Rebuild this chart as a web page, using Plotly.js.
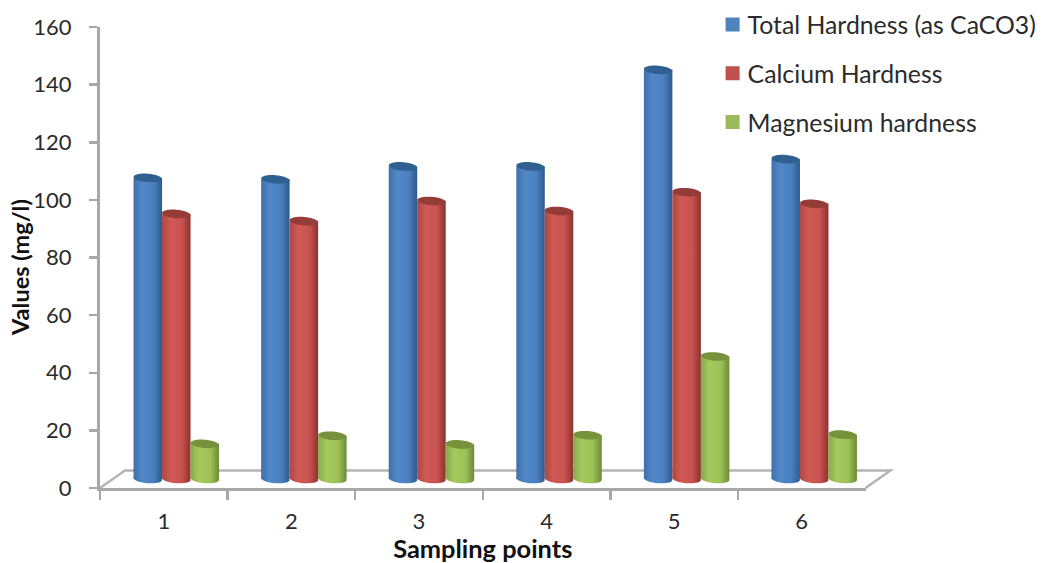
<!DOCTYPE html>
<html>
<head>
<meta charset="utf-8">
<script src="https://cdn.plot.ly/plotly-3.0.1.min.js"></script>
<style>html,body{margin:0;padding:0;background:#fff}#chart{width:1041px;height:563px}</style>
</head>
<body>
<div id="chart"></div>
<script>
// Water hardness at six sampling points (mg/l)
const samplingPoints = [1, 2, 3, 4, 5, 6];
const totalHardness = [104.5, 104, 108.5, 108.5, 142, 111];
const calciumHardness = [92, 89.5, 96.5, 93, 99.5, 95.5];
const magnesiumHardness = [12.2, 15, 12, 15.2, 42.5, 15.4];
const seriesNames = ['Total Hardness (as CaCO3)', 'Calcium Hardness', 'Magnesium hardness'];
const yTicks = [0, 20, 40, 60, 80, 100, 120, 140, 160];

const swatch = ['#4f81bd', '#c0504d', '#9bbb59'];
const capColor = ['#30608f', '#953c39', '#76933c'];
const shades = [
  ['#3f70aa', '#5088c8', '#4a80bf', '#2f5a8c'],
  ['#ae4643', '#d05a56', '#c7524f', '#8a322f'],
  ['#88a94b', '#a6ca5e', '#9dc058', '#6d8a38']
];

// Frame of the plot in pixels; the columns sit on axes nudged back by the floor depth
const W = 1041, H = 563;
const left = 100, axisW = 766, top0 = 27, floorY = 488, axisH = 461;
const depthX = 12.5, depthY = 9;
const mL = left, mR = W - (left + axisW + depthX), mT = top0 - depthY, mB = H - floorY;
const plotW = W - mL - mR, plotH = H - mT - mB;
const barWidth = 0.67 / 3;
const halfW = 14.2, halfH = 4.2, tilt = 1;
const unitsPerPx = 160 / axisH;

// Tilted ellipse in pixels around its anchor, for the column ends
function ellipsePath() {
  const k = 0.5523, a = [halfW, -tilt], b = [0, halfH];
  const p = (u, v) => (u * a[0] + v * b[0]).toFixed(2) + ',' + (u * a[1] + v * b[1]).toFixed(2);
  return 'M' + p(1, 0) +
    'C' + p(1, k) + ' ' + p(k, 1) + ' ' + p(0, 1) +
    'C' + p(-k, 1) + ' ' + p(-1, k) + ' ' + p(-1, 0) +
    'C' + p(-1, -k) + ' ' + p(-k, -1) + ' ' + p(0, -1) +
    'C' + p(k, -1) + ' ' + p(1, -k) + ' ' + p(1, 0) + 'Z';
}

const allSeries = [totalHardness, calciumHardness, magnesiumHardness];
const font = 'Lato, Carlito, sans-serif';
const categoryLabels = samplingPoints.map(String);

const traces = allSeries.map((vals, i) => ({
  type: 'bar', name: seriesNames[i], x: samplingPoints, y: vals,
  xaxis: 'x2', yaxis: 'y2', legendgroup: 'g' + i,
  marker: {color: swatch[i], line: {width: 0}}
}));
// Keeps the front axes alive; the columns themselves live on x2/y2
traces.unshift({
  type: 'scatter', mode: 'none', x: categoryLabels, y: totalHardness,
  xaxis: 'x', yaxis: 'y', showlegend: false, hoverinfo: 'skip'
});

// Floor of the chart: back edge and the two receding sides
const floorDx = 25, floorDy = 17.5;
const fx = px => (px - mL) / plotW, fy = py => (H - mB - py) / plotH;
const shapes = [{
  type: 'path', xref: 'paper', yref: 'paper', layer: 'below',
  path: 'M' + fx(left) + ',' + fy(floorY) +
        'L' + fx(left + floorDx) + ',' + fy(floorY - floorDy) +
        'L' + fx(left + axisW + floorDx) + ',' + fy(floorY - floorDy) +
        'L' + fx(left + axisW) + ',' + fy(floorY),
  line: {color: '#b4b4b4', width: 2.5}
}];
const bottomCaps = [];
allSeries.forEach((vals, i) => vals.forEach((v, j) => {
  const xc = samplingPoints[j] + (i - 1) * barWidth;
  const base = {type: 'path', xref: 'x2', yref: 'y2', xsizemode: 'pixel', ysizemode: 'pixel',
    xanchor: xc, path: ellipsePath(), line: {width: 0}};
  bottomCaps.push({index: shapes.length, series: i});
  shapes.push(Object.assign({}, base, {yanchor: 0, fillcolor: swatch[i], layer: 'below'}));
  shapes.push(Object.assign({}, base, {yanchor: v, fillcolor: capColor[i], layer: 'above'}));
}));

const layout = {
  width: W, height: H, showlegend: true, paper_bgcolor: '#fff', plot_bgcolor: 'rgba(0,0,0,0)',
  margin: {l: mL, r: mR, t: mT, b: mB, pad: 0, autoexpand: false},
  font: {family: font, size: 22, color: '#2b2b2b'},
  barmode: 'group', bargap: 0.33, bargroupgap: 0,
  shapes: shapes,
  xaxis: {
    type: 'category', categoryorder: 'array', categoryarray: categoryLabels,
    tickvals: categoryLabels, tickson: 'boundaries',
    domain: [0, axisW / plotW], range: [-0.5, samplingPoints.length - 0.5], anchor: 'y',
    showline: true, linecolor: '#a8a8a8', linewidth: 3, ticks: 'outside', ticklen: 9,
    tickcolor: '#a8a8a8', tickwidth: 2.5, showgrid: false, zeroline: false,
    ticklabelstandoff: 12, tickfont: {size: 22, family: font},
    title: {text: 'Sampling points', standoff: 10, font: {size: 25.4, family: font, weight: 'bold', color: '#111'}}
  },
  yaxis: {
    domain: [0, axisH / plotH], range: [0, 160], tickvals: yTicks, anchor: 'x',
    showline: true, linecolor: '#a8a8a8', linewidth: 3, ticks: 'outside', ticklen: 8,
    tickcolor: '#a8a8a8', tickwidth: 2.5, showgrid: false, zeroline: false,
    ticklabelstandoff: 13, tickfont: {size: 22, family: font},
    title: {text: 'Values (mg/l)', standoff: 4, font: {size: 23.5, family: font, weight: 'bold', color: '#111'}}
  },
  // Independent axes, offset from the front ones by the floor depth
  xaxis2: {
    domain: [depthX / plotW, 1], range: [0.5, samplingPoints.length + 0.5], type: 'linear',
    anchor: 'y2', visible: false, fixedrange: true
  },
  // Range dips below zero so the lower column ends are not clipped by the subplot
  yaxis2: {
    domain: [0, 1], range: [-depthY * unitsPerPx, 160], anchor: 'x2',
    visible: false, fixedrange: true
  },
  legend: {
    x: fx(713), y: fy(2), xanchor: 'left', yanchor: 'top', traceorder: 'grouped',
    tracegroupgap: 13.5, font: {size: 24.8, family: font, color: '#2b2b2b'},
    bgcolor: 'rgba(0,0,0,0)', itemclick: false, itemdoubleclick: false
  }
};

// Shade the columns across their width so they read as cylinders
function applyShading(gd) {
  const svg = gd.querySelector('svg.main-svg');
  const defs = svg.querySelector('defs');
  const NS = 'http://www.w3.org/2000/svg';
  shades.forEach((stops, i) => {
    if (svg.querySelector('#cyl' + i)) return;
    const g = document.createElementNS(NS, 'linearGradient');
    g.setAttribute('id', 'cyl' + i);
    g.setAttribute('x1', '0'); g.setAttribute('x2', '1');
    g.setAttribute('y1', '0'); g.setAttribute('y2', '0');
    [0, 0.3, 0.7, 1].forEach((o, n) => {
      const s = document.createElementNS(NS, 'stop');
      s.setAttribute('offset', o);
      s.setAttribute('stop-color', stops[n]);
      g.appendChild(s);
    });
    defs.appendChild(g);
  });
  gd.querySelectorAll('.barlayer .trace.bars').forEach((t, i) => {
    t.querySelectorAll('.point path').forEach(p => { p.style.fill = 'url(#cyl' + i + ')'; });
  });
  bottomCaps.forEach(c => {
    gd.querySelectorAll('.shapelayer path[data-index="' + c.index + '"]').forEach(p => {
      p.style.fill = 'url(#cyl' + c.series + ')';
    });
  });
  // Slightly larger legend keys, set closer to their labels
  gd.querySelectorAll('.legend .legendpoints path').forEach(p => {
    p.setAttribute('d', 'M7,7H-7V-7H7Z');
  });
  gd.querySelectorAll('.legend .legendtext').forEach(t => {
    t.setAttribute('x', '35');
  });
  // The value-axis title sits a little lower and closer to the tick labels
  const yTitle = gd.querySelector('.ytitle');
  if (yTitle) {
    yTitle.setAttribute('x', '29');
    yTitle.setAttribute('y', '267');
    yTitle.setAttribute('transform', 'rotate(-90,29,267)');
  }
}

const gd = document.getElementById('chart');
Plotly.newPlot(gd, traces, layout, {displayModeBar: false, staticPlot: true}).then(() => {
  applyShading(gd);
  gd.on('plotly_afterplot', () => applyShading(gd));
});
</script>
</body>
</html>
